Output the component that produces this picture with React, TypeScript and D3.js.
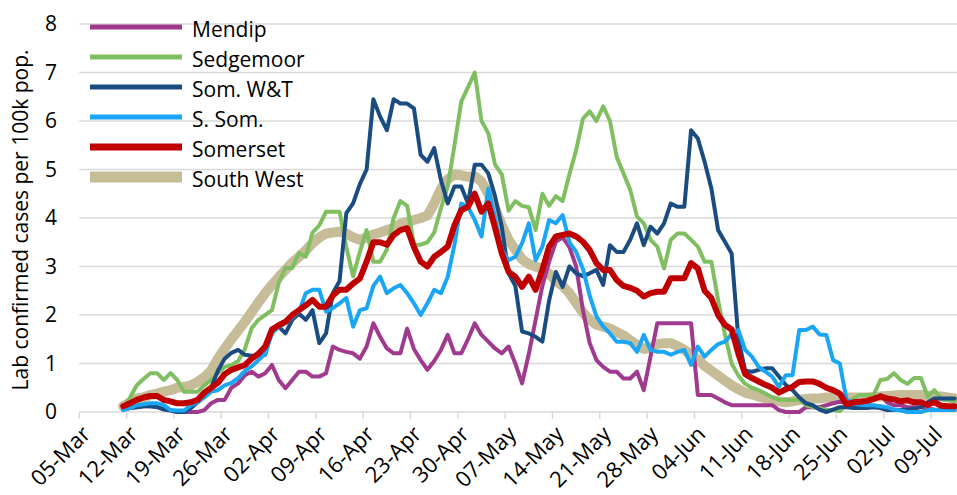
import React from 'react';
import * as d3 from 'd3';

// daily values, 11-Mar-2020 .. 12-Jul-2020
const firstDay = '2020-03-11';

const mendip = [
  0.05, 0.1, 0.1, 0.12, 0.12, 0.12, 0.08, 0.04, 0.0, 0.0,
  0.0, 0.0, 0.04, 0.18, 0.25, 0.25, 0.5, 0.59, 0.76, 0.83,
  0.73, 0.8, 0.97, 0.66, 0.49, 0.66, 0.83, 0.83, 0.73, 0.73,
  0.8, 1.35, 1.28, 1.24, 1.21, 1.1, 1.35, 1.83, 1.55, 1.31,
  1.21, 1.21, 1.72, 1.3, 1.07, 0.87, 1.05, 1.28, 1.59, 1.21,
  1.21, 1.5, 1.83, 1.59, 1.45, 1.31, 1.21, 1.35, 1.0, 0.59,
  1.2, 1.9, 2.6, 3.1, 3.51, 3.6, 3.4, 3.0, 2.1, 1.42,
  1.07, 0.93, 0.83, 0.83, 0.69, 0.69, 0.83, 0.45, 1.14, 1.83,
  1.83, 1.83, 1.83, 1.83, 1.83, 0.35, 0.35, 0.35, 0.28, 0.2,
  0.14, 0.14, 0.14, 0.14, 0.14, 0.14, 0.14, 0.04, 0.0, 0.0,
  0.0, 0.1, 0.1, 0.1, 0.14, 0.18, 0.21, 0.18, 0.14, 0.14,
  0.18, 0.25, 0.35, 0.2, 0.14, 0.14, 0.1, 0.1, 0.1, 0.07,
  0.05, 0.04, 0.04, 0.04,
];

const sedgemoor = [
  0.07, 0.3, 0.55, 0.68, 0.8, 0.8, 0.66, 0.8, 0.66, 0.42,
  0.42, 0.42, 0.55, 0.66, 0.8, 0.93, 0.97, 1.05, 1.3, 1.73,
  1.9, 2.0, 2.1, 2.66, 2.97, 2.97, 3.28, 3.2, 3.7, 3.85,
  4.13, 4.13, 4.13, 3.4, 2.8, 3.3, 3.75, 3.1, 3.1, 3.35,
  4.0, 4.35, 4.25, 3.45, 3.45, 3.5, 3.7, 4.2, 4.65, 5.5,
  6.4, 6.7, 7.0, 6.0, 5.75, 5.1, 4.9, 4.15, 4.35, 4.25,
  4.22, 3.75, 4.5, 4.25, 4.45, 4.35, 4.9, 5.4, 6.05, 6.2,
  6.0, 6.3, 6.0, 5.26, 4.92, 4.58, 4.03, 3.89, 3.55, 3.41,
  2.96, 3.55, 3.68, 3.68, 3.55, 3.41, 3.1, 3.1, 2.3, 1.6,
  1.0, 0.75, 0.58, 0.5, 0.45, 0.38, 0.3, 0.25, 0.25, 0.25,
  0.25, 0.14, 0.1, 0.08, 0.04, 0.04, 0.02, 0.15, 0.28, 0.35,
  0.35, 0.35, 0.66, 0.68, 0.8, 0.66, 0.58, 0.7, 0.7, 0.32,
  0.45, 0.28, 0.25, 0.22,
];

const somWT = [
  0.05, 0.08, 0.1, 0.12, 0.12, 0.1, 0.05, 0.03, 0.0, 0.0,
  0.08, 0.2, 0.35, 0.5, 0.85, 1.1, 1.22, 1.28, 1.18, 1.16,
  1.16, 1.18, 1.72, 1.76, 1.62, 1.9, 2.03, 1.9, 2.1, 1.42,
  1.62, 2.45, 2.7, 4.1, 4.3, 4.7, 5.0, 6.45, 6.09, 5.81,
  6.45, 6.36, 6.36, 6.26, 5.3, 5.16, 5.44, 4.78, 4.3, 4.65,
  4.65, 4.3, 5.1, 5.1, 4.92, 4.45, 3.82, 2.86, 2.6, 1.66,
  1.62, 1.55, 1.45, 2.3, 2.89, 2.58, 3.0, 2.86, 2.8, 2.86,
  2.93, 2.62, 3.44, 3.3, 3.3, 3.55, 3.89, 3.44, 3.82, 3.68,
  3.89, 4.3, 4.23, 4.23, 5.81, 5.64, 5.16, 4.61, 3.75, 3.51,
  3.27, 1.5, 0.85, 0.83, 0.87, 0.9, 0.9, 0.73, 0.56, 0.45,
  0.3, 0.18, 0.14, 0.05, 0.0, 0.05, 0.1, 0.1, 0.08, 0.08,
  0.08, 0.1, 0.08, 0.04, 0.04, 0.04, 0.05, 0.07, 0.1, 0.2,
  0.28, 0.28, 0.28, 0.28,
];

const sSom = [
  0.04, 0.08, 0.14, 0.16, 0.18, 0.18, 0.14, 0.04, 0.03, 0.03,
  0.14, 0.2, 0.3, 0.42, 0.45, 0.55, 0.6, 0.7, 0.85, 0.94,
  1.07, 1.2, 1.62, 1.76, 1.83, 1.95, 2.07, 2.45, 2.52, 2.52,
  2.07, 2.14, 2.24, 2.35, 1.76, 2.1, 2.14, 2.6, 2.79, 2.45,
  2.55, 2.62, 2.45, 2.24, 2.0, 2.24, 2.52, 2.45, 2.79, 3.45,
  4.3, 4.23, 3.96, 3.62, 4.61, 4.0, 3.34, 3.13, 3.2, 3.48,
  3.89, 3.13, 3.41, 3.96, 3.89, 4.06, 3.5, 3.3, 2.95, 2.4,
  1.97, 1.76, 1.62, 1.45, 1.45, 1.42, 1.24, 1.59, 1.28, 1.24,
  1.24, 1.18, 1.24, 1.28, 0.97, 1.35, 1.14, 1.28, 1.4, 1.45,
  1.6, 1.69, 1.28, 1.14, 0.93, 0.83, 0.73, 0.52, 0.76, 0.76,
  1.69, 1.69, 1.76, 1.6, 1.59, 1.07, 1.0, 0.25, 0.18, 0.15,
  0.14, 0.14, 0.12, 0.1, 0.05, 0.03, 0.0, 0.0, 0.0, 0.04,
  0.04, 0.04, 0.04, 0.04,
];

const somerset = [
  0.12, 0.18, 0.25, 0.3, 0.33, 0.33, 0.25, 0.22, 0.18, 0.18,
  0.2, 0.25, 0.4, 0.5, 0.6, 0.78, 0.87, 0.92, 0.97, 1.1,
  1.2, 1.35, 1.7, 1.79, 1.86, 2.0, 2.1, 2.2, 2.31, 2.17,
  2.17, 2.4, 2.52, 2.52, 2.65, 2.75, 3.1, 3.5, 3.5, 3.45,
  3.65, 3.75, 3.79, 3.4, 3.1, 3.0, 3.2, 3.3, 3.41, 3.85,
  4.16, 4.23, 4.5, 4.13, 4.3, 3.8, 3.27, 2.89, 2.79, 2.58,
  2.79, 2.52, 2.93, 3.41, 3.62, 3.65, 3.68, 3.62, 3.51, 3.34,
  3.07, 2.93, 2.93, 2.72, 2.6, 2.56, 2.5, 2.38, 2.45, 2.48,
  2.48, 2.76, 2.76, 2.76, 3.07, 2.96, 2.5, 2.35, 2.0, 1.8,
  1.7, 1.2, 0.78, 0.7, 0.63, 0.56, 0.5, 0.4, 0.47, 0.52,
  0.62, 0.63, 0.63, 0.58, 0.5, 0.45, 0.38, 0.16, 0.2, 0.21,
  0.23, 0.27, 0.32, 0.28, 0.26, 0.22, 0.24, 0.2, 0.2, 0.15,
  0.2, 0.13, 0.12, 0.12,
];

const southWest = [
  0.12, 0.2, 0.28, 0.3, 0.35, 0.38, 0.42, 0.45, 0.5, 0.52,
  0.55, 0.62, 0.72, 0.85, 1.1, 1.3, 1.5, 1.68, 1.86, 2.06,
  2.26, 2.45, 2.62, 2.78, 2.93, 3.08, 3.2, 3.33, 3.48, 3.6,
  3.68, 3.7, 3.72, 3.68, 3.6, 3.55, 3.6, 3.66, 3.7, 3.75,
  3.8, 3.88, 3.92, 3.96, 4.0, 4.05, 4.3, 4.6, 4.8, 4.9,
  4.88, 4.85, 4.86, 4.75, 4.5, 4.2, 3.85, 3.55, 3.35, 3.15,
  3.05, 3.0, 2.95, 2.85, 2.7, 2.6, 2.45, 2.25, 2.05, 1.9,
  1.8, 1.76, 1.72, 1.65, 1.58, 1.48, 1.38, 1.3, 1.32, 1.4,
  1.42, 1.42, 1.36, 1.28, 1.18, 1.08, 0.95, 0.85, 0.75, 0.65,
  0.55, 0.47, 0.4, 0.36, 0.32, 0.28, 0.25, 0.22, 0.2, 0.22,
  0.25, 0.27, 0.28, 0.28, 0.3, 0.3, 0.3, 0.3, 0.3, 0.3,
  0.3, 0.31, 0.32, 0.33, 0.34, 0.35, 0.35, 0.35, 0.35, 0.34,
  0.33, 0.32, 0.3, 0.28,
];

const xTickLabels = [
  '05-Mar', '12-Mar', '19-Mar', '26-Mar', '02-Apr', '09-Apr', '16-Apr', '23-Apr', '30-Apr',
  '07-May', '14-May', '21-May', '28-May', '04-Jun', '11-Jun', '18-Jun', '25-Jun', '02-Jul', '09-Jul',
];
const yTicks = [0, 1, 2, 3, 4, 5, 6, 7, 8];

const FONT = "'Open Sans', 'Noto Sans', sans-serif";

// drawing order: South West underneath, Somerset on top
const series = [
  { name: 'South West', values: southWest, color: '#c6bd98', width: 10 },
  { name: 'Mendip', values: mendip, color: '#a03a8e', width: 4 },
  { name: 'Sedgemoor', values: sedgemoor, color: '#80bf61', width: 4 },
  { name: 'Som. W&T', values: somWT, color: '#1a4c82', width: 4 },
  { name: 'S. Som.', values: sSom, color: '#1aa5f5', width: 4 },
  { name: 'Somerset', values: somerset, color: '#c00000', width: 6 },
];
const legendOrder = ['Mendip', 'Sedgemoor', 'Som. W&T', 'S. Som.', 'Somerset', 'South West'];

const W = 957;
const H = 495;

export default function App() {
  const parseDay = d3.utcParse('%Y-%m-%d');
  const start = parseDay(firstDay)!;
  const parseTick = d3.utcParse('%d-%b-%Y');

  const x = d3
    .scaleUtc()
    .domain([Date.UTC(2020, 2, 5), Date.UTC(2020, 6, 13)])
    .range([79.3, 958.1]);
  const y = d3.scaleLinear().domain([0, 8]).range([412, 24]);

  // points sit in the middle of each day's slot
  const dayX = (i: number) => x(d3.utcHour.offset(d3.utcDay.offset(start, i), 12));

  const line = d3
    .line<number>()
    .x((_, i) => dayX(i))
    .y((v) => y(v));

  const [x0] = x.range();

  return (
    <div style={{ position: 'absolute', left: 0, top: 0 }}>
      <svg width={W} height={H} style={{ display: 'block', background: '#fff' }}>
        {/* gridlines */}
        {yTicks.map((t) => (
          <line key={t} x1={x0} x2={W} y1={y(t)} y2={y(t)} stroke="#d9d9d9" strokeWidth={1.5} />
        ))}
        {/* x ticks */}
        {xTickLabels.map((lab) => {
          const tx = x(parseTick(lab + '-2020')!);
          return (
            <g key={lab}>
              <line x1={tx} x2={tx} y1={412} y2={419} stroke="#d9d9d9" strokeWidth={1.5} />
              <text
                transform={`translate(${tx + 7},${430}) rotate(-45)`}
                textAnchor="end"
                dy="0.35em"
                fontFamily={FONT}
                fontSize={22}
                fill="#000"
              >
                {lab}
              </text>
            </g>
          );
        })}
        {/* y tick labels */}
        {yTicks.map((t) => (
          <text
            key={t}
            x={57}
            y={y(t)}
            dy="0.35em"
            textAnchor="end"
            fontFamily={FONT}
            fontSize={21}
            fill="#000"
          >
            {t}
          </text>
        ))}
        <text
          transform={`translate(${28},${220}) rotate(-90)`}
          textAnchor="middle"
          fontFamily={FONT}
          fontSize={21}
          fill="#000"
        >
          Lab confirmed cases per 100k pop.
        </text>
        {/* series */}
        {series.map((s) => (
          <path
            key={s.name}
            d={line(s.values) ?? ''}
            fill="none"
            stroke={s.color}
            strokeWidth={s.width}
            strokeLinejoin="round"
            strokeLinecap="round"
          />
        ))}
        {/* legend */}
        {legendOrder.map((name, i) => {
          const s = series.find((d) => d.name === name)!;
          const ly = 30 + i * 30;
          return (
            <g key={name}>
              <line x1={90} x2={182} y1={ly - 3} y2={ly - 3} stroke={s.color} strokeWidth={Math.max(s.width + 1, 5)} />
              <text x={192} y={ly} dy="0.35em" fontFamily={FONT} fontSize={21} fill="#000">
                {name}
              </text>
            </g>
          );
        })}
      </svg>
    </div>
  );
}
